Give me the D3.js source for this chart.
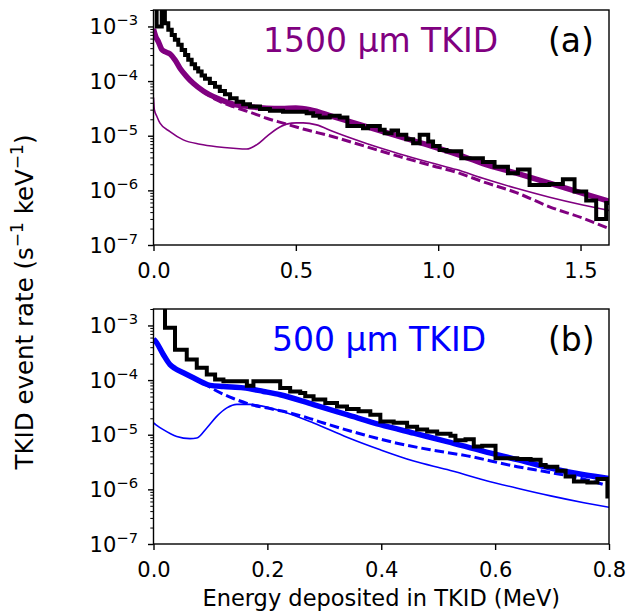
<!DOCTYPE html>
<html><head><meta charset="utf-8">
<script src="https://cdn.jsdelivr.net/npm/d3@7"></script>
<style>body{margin:0;background:#fff} svg{display:block} text{font-family:"DejaVu Sans",sans-serif}</style>
</head><body><svg id="c" width="627" height="612"></svg>
<script>
// ---------- Panel (a): 1500 um TKID ----------
const histA_E = [0,0.011,0.029,0.040,0.052,0.064,0.075,0.087,0.099,0.111,0.122,0.134,0.146,0.157,0.169,0.181,0.198,0.216,0.233,0.251,0.269,0.292,0.315,0.339,0.374,0.409,0.455,0.538,0.561,0.584,0.619,0.654,0.681,0.736,0.754,0.795,0.812,0.836,0.859,0.888,0.912,0.935,0.965,0.982,1.005,1.029,1.081,1.157,1.198,1.245,1.280,1.321,1.391,1.438,1.479,1.520,1.555,1.590,1.625];
const histA_R = [3e-3,1.0e-3,3e-3,1.15e-3,8.7e-4,7.0e-4,5.7e-4,4.6e-4,3.7e-4,3.0e-4,2.45e-4,2.04e-4,1.72e-4,1.49e-4,1.26e-4,1.10e-4,9.2e-5,7.9e-5,6.6e-5,5.75e-5,4.86e-5,4.2e-5,3.78e-5,3.41e-5,3.1e-5,2.85e-5,2.74e-5,2.58e-5,2.31e-5,2.15e-5,2.31e-5,2.15e-5,1.51e-5,1.37e-5,1.51e-5,1.28e-5,1.11e-5,1.24e-5,1.04e-5,8.6e-6,7.3e-6,1.04e-5,7.8e-6,6.5e-6,5.5e-6,5.2e-6,3.85e-6,3.3e-6,2.7e-6,2.06e-6,2.4e-6,1.26e-6,1.31e-6,1.6e-6,9.5e-7,6.5e-7,3.0e-7,5.9e-7];
const totA_E = [0,0.008,0.0168,0.0288,0.0404,0.0579,0.0754,0.093,0.1165,0.1396,0.1747,0.2218,0.28,0.3386,0.3972,0.45,0.5,0.549,0.6309,0.748,0.8649,0.9818,1.0639,1.1572,1.2744,1.3912,1.508,1.6];
const totA_R = [9.0e-4,6.5e-4,5.3e-4,3.8e-4,3.45e-4,3.15e-4,2.45e-4,1.72e-4,1.21e-4,9.1e-5,6.6e-5,4.9e-5,3.8e-5,3.4e-5,3.2e-5,3.15e-5,3.2e-5,3.0e-5,2.24e-5,1.47e-5,9.6e-6,6.3e-6,4.6e-6,3.1e-6,2.06e-6,1.35e-6,8.85e-7,6.3e-7];
const dashA_E = [0,0.008,0.0168,0.0288,0.0404,0.0579,0.0754,0.093,0.1165,0.1396,0.1747,0.2218,0.28,0.3386,0.3972,0.4557,0.5256,0.6309,0.748,0.8649,0.9818,1.0639,1.1572,1.2744,1.3912,1.508,1.6];
const dashA_R = [9.0e-4,6.5e-4,5.3e-4,3.8e-4,3.45e-4,3.15e-4,2.45e-4,1.72e-4,1.21e-4,9.0e-5,6.4e-5,4.5e-5,3.4e-5,2.7e-5,2.09e-5,1.7e-5,1.33e-5,9.6e-6,6.3e-6,4.14e-6,2.8e-6,2.15e-6,1.44e-6,9.1e-7,5.0e-7,3.1e-7,2.0e-7];
const thinA_E = [0,0.003,0.0112,0.0228,0.0579,0.1046,0.1632,0.2218,0.28,0.327,0.3621,0.3972,0.4323,0.4674,0.5025,0.5256,0.5726,0.6309,0.748,0.8649,0.9818,1.0639,1.1572,1.2744,1.3912,1.508,1.6];
const thinA_R = [5.0e-5,3.0e-5,2.3e-5,1.7e-5,1.19e-5,8.4e-6,7.0e-6,6.3e-6,5.9e-6,5.7e-6,6.8e-6,9.6e-6,1.33e-5,1.63e-5,1.72e-5,1.72e-5,1.58e-5,1.19e-5,7.2e-6,4.65e-6,3.13e-6,2.4e-6,1.66e-6,1.09e-6,7.5e-7,5.4e-7,4.3e-7];
const ticksA_x = [0, 0.5, 1.0, 1.5];

// ---------- Panel (b): 500 um TKID ----------
const histB_E = [0,0.0202,0.0378,0.0584,0.076,0.0936,0.1082,0.1228,0.164,0.1755,0.2225,0.240,0.2577,0.2665,0.2811,0.3017,0.3223,0.3398,0.3602,0.3808,0.3984,0.4218,0.4454,0.463,0.4806,0.4982,0.5216,0.5303,0.548,0.5625,0.5773,0.6007,0.6389,0.6623,0.6799,0.6887,0.7092,0.7238,0.7384,0.762,0.7796,0.7972,0.81];
const histB_R = [2.5e-3,9.1e-4,3.6e-4,2.38e-4,1.68e-4,1.26e-4,1.02e-4,9.5e-5,7.9e-5,9.5e-5,7.2e-5,6.15e-5,5.8e-5,5.05e-5,4.4e-5,3.8e-5,3.3e-5,2.96e-5,2.68e-5,2.33e-5,1.75e-5,1.66e-5,1.4e-5,1.24e-5,1.15e-5,1.04e-5,9.6e-6,7.9e-6,8.3e-6,6.1e-6,6.3e-6,3.7e-6,3.6e-6,3.5e-6,2.8e-6,2.6e-6,2.2e-6,1.72e-6,1.39e-6,1.33e-6,1.54e-6,7.4e-7];
const totB_E = [0,0.0044,0.0172,0.029,0.0378,0.0524,0.070,0.0876,0.0994,0.1228,0.158,0.1931,0.2225,0.2811,0.3398,0.3984,0.457,0.5157,0.5801,0.6389,0.6975,0.756,0.8];
const totB_R = [5.6e-4,5.0e-4,2.94e-4,1.92e-4,1.63e-4,1.36e-4,1.1e-4,8.9e-5,8.0e-5,7.6e-5,7.2e-5,6.2e-5,5.4e-5,3.55e-5,2.33e-5,1.53e-5,1.07e-5,7.5e-6,4.95e-6,3.5e-6,2.45e-6,1.85e-6,1.58e-6];
const dashB_E = [0,0.0044,0.0172,0.029,0.0378,0.0524,0.070,0.0876,0.1052,0.1404,0.1697,0.2049,0.2401,0.2695,0.2987,0.3691,0.4277,0.4863,0.5509,0.6389,0.6975,0.756,0.8];
const dashB_R = [5.6e-4,5.0e-4,2.94e-4,1.92e-4,1.63e-4,1.36e-4,1.1e-4,8.8e-5,6.8e-5,4.6e-5,3.6e-5,3.0e-5,2.5e-5,2.06e-5,1.64e-5,1.0e-5,7.0e-6,5.3e-6,4.1e-6,2.6e-6,2.03e-6,1.54e-6,1.15e-6];
const thinB_E = [0,0.0044,0.0172,0.0408,0.0642,0.076,0.0936,0.111,0.1288,0.1464,0.1697,0.1931,0.2225,0.2811,0.3398,0.3984,0.457,0.5157,0.5801,0.6389,0.6975,0.756,0.8];
const thinB_R = [1.65e-5,1.52e-5,1.24e-5,9.3e-6,8.5e-6,8.7e-6,1.33e-5,2.17e-5,3.1e-5,3.6e-5,3.6e-5,3.3e-5,2.75e-5,1.64e-5,9.0e-6,5.3e-6,3.3e-6,2.3e-6,1.49e-6,1.05e-6,7.6e-7,5.7e-7,4.7e-7];
const ticksB_x = [0, 0.2, 0.4, 0.6, 0.8];

const yMajor = [1e-7, 1e-6, 1e-5, 1e-4, 1e-3];
const yMajorExp = ["7", "6", "5", "4", "3"];

const svg = d3.select("#c");
const L = 153.5, R = 609;

function panel(cfg) {
  const x = d3.scaleLinear().domain(cfg.xDomain).range([L, R]);
  const y = d3.scaleLog().domain([1e-7, 2e-3]).range([cfg.bottom, cfg.top]);
  const g = svg.append("g");
  const clipId = "clip" + cfg.id;
  svg.append("clipPath").attr("id", clipId).append("rect")
    .attr("x", L).attr("y", cfg.top).attr("width", R - L).attr("height", cfg.bottom - cfg.top);
  const plot = g.append("g").attr("clip-path", `url(#${clipId})`);
  const smooth = d3.line().curve(d3.curveMonotoneX).x(d => x(d[0])).y(d => y(d[1]));

  plot.append("path").datum(d3.zip(cfg.thinE, cfg.thinR)).attr("d", smooth)
    .attr("fill", "none").attr("stroke", cfg.color).attr("stroke-width", 1.6).attr("stroke-linejoin", "round");
  plot.append("path").datum(d3.zip(cfg.totE, cfg.totR)).attr("d", smooth)
    .attr("fill", "none").attr("stroke", cfg.color).attr("stroke-width", 5.5).attr("stroke-linejoin", "round");
  plot.append("path").datum(d3.zip(cfg.dashE, cfg.dashR)).attr("d", smooth)
    .attr("fill", "none").attr("stroke", cfg.color).attr("stroke-width", 3).attr("stroke-dasharray", "9.5,4");

  const pts = cfg.histR.map((v, i) => [cfg.histE[i], v]);
  pts.push([cfg.histE[cfg.histE.length - 1], cfg.histR[cfg.histR.length - 1]]);
  const step = d3.line().curve(d3.curveStepAfter).x(d => x(d[0])).y(d => y(d[1]));
  plot.append("path").datum(pts).attr("d", step)
    .attr("fill", "none").attr("stroke", "#000").attr("stroke-width", 4).attr("stroke-linejoin", "miter");

  // frame
  g.append("rect").attr("x", L).attr("y", cfg.top).attr("width", R - L).attr("height", cfg.bottom - cfg.top)
    .attr("fill", "none").attr("stroke", "#000").attr("stroke-width", 1.4);

  // x axis
  const xa = g.append("g").attr("transform", `translate(0,${cfg.bottom})`)
    .call(d3.axisBottom(x).tickValues(cfg.xTicks).tickFormat(d3.format(".1f")).tickSize(6).tickPadding(12));
  xa.select(".domain").remove();
  xa.selectAll("line").attr("stroke-width", 1.4);
  xa.selectAll("text").attr("font-size", 21).attr("font-family", "DejaVu Sans").attr("fill", "#000");

  // y axis major/minor ticks
  const minors = [];
  for (let e = -7; e <= -3; e++) for (let m = 2; m <= 9; m++) { const v = m * Math.pow(10, e); if (v <= 2.0001e-3) minors.push(v); }
  const ya = g.append("g").attr("transform", `translate(${L},0)`)
    .call(d3.axisLeft(y).tickValues(yMajor).tickFormat(() => "").tickSize(5.5));
  ya.select(".domain").remove();
  ya.selectAll("line").attr("stroke-width", 1.4);
  const ym = g.append("g").attr("transform", `translate(${L},0)`)
    .call(d3.axisLeft(y).tickValues(minors).tickFormat(() => "").tickSize(3.2));
  ym.select(".domain").remove();
  ym.selectAll("line").attr("stroke-width", 1.0);

  yMajor.forEach((v, i) => {
    const t = g.append("text").attr("x", 138).attr("y", y(v) + 7.5)
      .attr("text-anchor", "end").attr("font-size", 21).attr("fill", "#000");
    t.append("tspan").text("10");
    t.append("tspan").attr("dy", -8.5).attr("font-size", 14.7).text("\u2212" + yMajorExp[i]);
  });

  g.append("text").attr("x", cfg.labelX).attr("y", cfg.top + 42).attr("font-size", 33)
    .attr("fill", cfg.color).text(cfg.label);
  g.append("text").attr("x", 548).attr("y", cfg.top + 42).attr("font-size", 33)
    .attr("fill", "#000").text(cfg.tag);
}

panel({id: "a", xDomain: [0, 1.6], top: 10, bottom: 245, color: "#800080",
  histE: histA_E, histR: histA_R, totE: totA_E, totR: totA_R, dashE: dashA_E, dashR: dashA_R,
  thinE: thinA_E, thinR: thinA_R, xTicks: ticksA_x, label: "1500 \u00b5m TKID", labelX: 263, tag: "(a)"});
panel({id: "b", xDomain: [0, 0.8], top: 309, bottom: 544, color: "#0000ff",
  histE: histB_E, histR: histB_R, totE: totB_E, totR: totB_R, dashE: dashB_E, dashR: dashB_R,
  thinE: thinB_E, thinR: thinB_R, xTicks: ticksB_x, label: "500 \u00b5m TKID", labelX: 272, tag: "(b)"});

// axis labels
svg.append("text").attr("x", (L + R) / 2).attr("y", 606).attr("text-anchor", "middle")
  .attr("font-size", 22.5).attr("fill", "#000").text("Energy deposited in TKID (MeV)");
const yl = svg.append("text").attr("transform", "translate(33,302) rotate(-90)").attr("text-anchor", "middle")
  .attr("font-size", 24.5).attr("fill", "#000");
yl.append("tspan").text("TKID event rate (s");
yl.append("tspan").attr("dy", -10).attr("font-size", 17).text("\u22121");
yl.append("tspan").attr("dy", 10).text(" keV");
yl.append("tspan").attr("dy", -10).attr("font-size", 17).text("\u22121");
yl.append("tspan").attr("dy", 10).text(")");
</script></body></html>
